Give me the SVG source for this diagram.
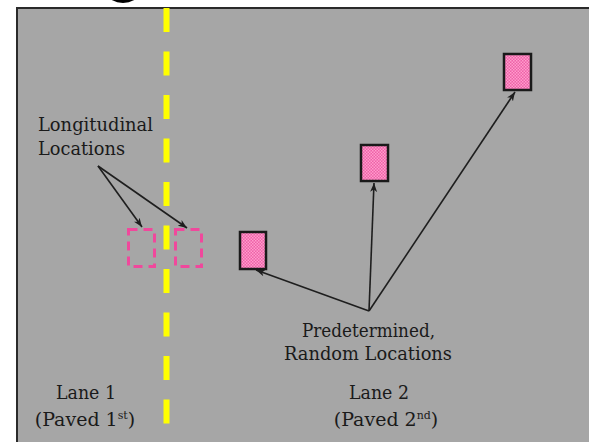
<svg xmlns="http://www.w3.org/2000/svg" width="589" height="442" viewBox="0 0 589 442">
<style>
text{font-family:'DejaVu Serif','Liberation Serif',serif;font-size:19px;fill:#1a1a1a}
.c{stroke:#1e1e1e;stroke-width:1.6;fill:none}
.loc{fill:url(#chk);stroke:#1a1a1a;stroke-width:2.5}
.dash{fill:none;stroke:#f0489c;stroke-width:3;stroke-dasharray:9 6}
</style>
<defs>
<pattern id="chk" width="3" height="3" patternUnits="userSpaceOnUse">
<rect width="3" height="3" fill="#ee62a8"/>
<rect width="1.5" height="1.5" fill="#ff9ccc"/>
<rect x="1.5" y="1.5" width="1.5" height="1.5" fill="#ff9ccc"/>
</pattern>
<marker id="ah" markerWidth="10" markerHeight="8" refX="9" refY="4" orient="auto" markerUnits="userSpaceOnUse">
<path d="M0,0.5 L9,4 L0,7.5 L2.5,4 Z" fill="#1e1e1e"/>
</marker>
</defs>
<ellipse cx="123" cy="-6" rx="15" ry="9" fill="#000"/>
<rect x="17" y="8" width="600" height="460" fill="#a6a6a6" stroke="#2a2a2a" stroke-width="2"/>
<line x1="166.5" y1="8" x2="166.5" y2="442" stroke="#ffff00" stroke-width="6" stroke-dasharray="24 19.5"/>
<g id="dashed-left"><rect class="dash" x="128.5" y="229.5" width="26" height="37"/></g>
<g id="dashed-right"><rect class="dash" x="175.5" y="229.5" width="26" height="37"/></g>
<g id="loc1"><rect class="loc" x="240" y="232" width="26" height="37"/></g>
<g id="loc2"><rect class="loc" x="361" y="145" width="27" height="36"/></g>
<g id="loc3"><rect class="loc" x="504" y="54" width="27" height="36"/></g>
<g id="connectors">
<line class="c" x1="98" y1="166" x2="142" y2="227" marker-end="url(#ah)"/>
<line class="c" x1="98" y1="166" x2="187" y2="228" marker-end="url(#ah)"/>
<line class="c" x1="369" y1="311" x2="256" y2="270" marker-end="url(#ah)"/>
<line class="c" x1="369" y1="311" x2="374" y2="183" marker-end="url(#ah)"/>
<line class="c" x1="369" y1="311" x2="515" y2="92" marker-end="url(#ah)"/>
</g>
<g id="label-longitudinal">
<text x="38" y="131" textLength="115" lengthAdjust="spacingAndGlyphs">Longitudinal</text>
<text x="38" y="155" textLength="87" lengthAdjust="spacingAndGlyphs">Locations</text>
</g>
<g id="label-random">
<text x="302" y="337" textLength="133" lengthAdjust="spacingAndGlyphs">Predetermined,</text>
<text x="284" y="360" textLength="168" lengthAdjust="spacingAndGlyphs">Random Locations</text>
</g>
<g id="label-lane1">
<text x="86" y="399" text-anchor="middle" textLength="60" lengthAdjust="spacingAndGlyphs">Lane 1</text>
<text x="85" y="426" text-anchor="middle" font-size="18">(Paved 1<tspan font-size="11" dy="-7">st</tspan><tspan dy="7">)</tspan></text>
</g>
<g id="label-lane2">
<text x="379" y="399" text-anchor="middle" textLength="60" lengthAdjust="spacingAndGlyphs">Lane 2</text>
<text x="386" y="426" text-anchor="middle" font-size="18">(Paved 2<tspan font-size="11" dy="-7">nd</tspan><tspan dy="7">)</tspan></text>
</g>
</svg>
